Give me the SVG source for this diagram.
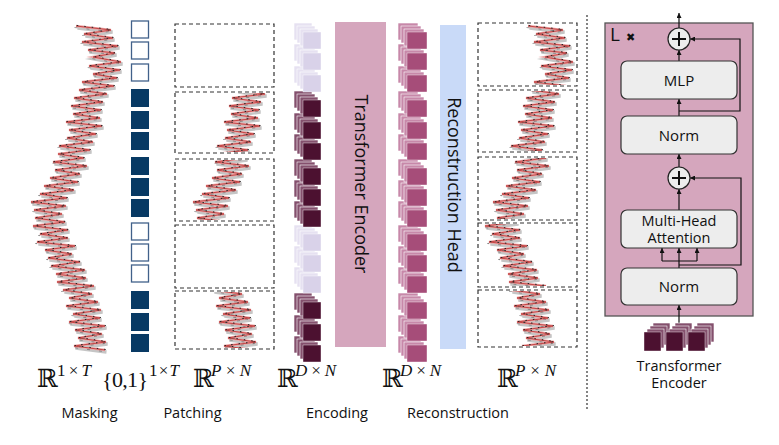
<svg xmlns="http://www.w3.org/2000/svg" xmlns:xlink="http://www.w3.org/1999/xlink" width="779" height="445" viewBox="0 0 779 445">
<style>
.sg{fill:none;stroke-linejoin:miter;stroke-miterlimit:6}
.sh{stroke:#8c8c8c;stroke-width:3.4;opacity:.5}
.pk{stroke:#eba6a6;stroke-width:2.4}
.rd{stroke:#c44545;stroke-width:1}
.nz{stroke:#222;stroke-width:1;stroke-dasharray:1.5 6}
.n2{stroke:#555;stroke-width:.7;stroke-dasharray:3 9;opacity:.8}
.me{fill:#fff;stroke:#41618a;stroke-width:1.3}
.mf{fill:#083a64}
.patch{fill:#fff;stroke:#333;stroke-width:1.2;stroke-dasharray:4 3}
.eb{fill:#84506d;stroke:#fff;stroke-width:.6}
.ef{fill:#4c1130;stroke:#fff;stroke-width:.4}
.lb{fill:#e6e1f1;stroke:#fff;stroke-width:.6}
.lf{fill:#d9d2e9;stroke:#fff;stroke-width:.4}
.rb{fill:#c788a9;stroke:#fff;stroke-width:.6}
.rf{fill:#a64d79;stroke:#fff;stroke-width:.4}
.txt{font-family:"Open Sans","Noto Sans",sans-serif;fill:#111}
.lbl{font-size:14.5px;text-anchor:middle}
.bt{font-size:15px;text-anchor:middle}
.b2{font-size:14px;text-anchor:middle}
.mt{font-family:"Liberation Serif",serif;fill:#111}
.rr{font-family:"DejaVu Serif","DejaVu Sans",serif;font-size:25px}
.sup{font-size:17px}
.it{font-style:italic}
.box{fill:#ededed;stroke:#333;stroke-width:1.2}
.conn{fill:none;stroke:#111;stroke-width:1.2}
.plus{fill:#ededed;stroke:#222;stroke-width:1.2}
.pl{stroke:#111;stroke-width:2;fill:none}
</style>
<defs>
<marker id="ah" viewBox="0 0 6 6" refX="6" refY="3" markerWidth="5" markerHeight="5" markerUnits="userSpaceOnUse" orient="auto">
<path d="M0,0 L6,3 L0,6 z" fill="#111"/>
</marker>
<path id="sigp" d="M76,26 L111,30 84,34 113,38 82,42 118,46 88,50 115,53 93,57 121,62 89,66 120,70 93,74 117,78 82,82 114,86 79,90 107,94 74,98 103,102 71,106 101,110 73,114 100,118 66,122 102,126 69,130 96,134 67,138 93,142 59,146 90,150 58,154 84,158 53,162 87,166 55,170 80,174 50,178 78,182 44,186 74,190 40,194 67,198 31,202 66,206 34,210 62,214 35,218 65,222 33,226 68,230 40,234 68,238 37,242 75,246 45,250 72,254 48,258 80,262 51,266 85,270 56,274 86,278 57,282 94,286 63,290 92,294 69,298 98,302 66,306 101,310 73,314 100,318 69,322 105,326 75,330 102,334 78,338 106,342 74,346 105,350"/>
<g id="sig">
<use href="#sigp" class="sg sh" transform="translate(1.5,2)"/>
<use href="#sigp" class="sg pk"/>
<use href="#sigp" class="sg rd"/>
<use href="#sigp" class="sg n2" transform="translate(-1.5,1.5)"/>
<use href="#sigp" class="sg nz" transform="translate(0.8,-0.5)"/>
</g>
<clipPath id="cp2" clipPathUnits="userSpaceOnUse"><rect x="176" y="93" width="97" height="59"/></clipPath>
<clipPath id="cp3" clipPathUnits="userSpaceOnUse"><rect x="176" y="160" width="97" height="60"/></clipPath>
<clipPath id="cp5" clipPathUnits="userSpaceOnUse"><rect x="176" y="292" width="97" height="56"/></clipPath>
<clipPath id="co1" clipPathUnits="userSpaceOnUse"><rect x="479" y="24" width="97" height="61"/></clipPath>
<clipPath id="co2" clipPathUnits="userSpaceOnUse"><rect x="479" y="91" width="97" height="60"/></clipPath>
<clipPath id="co3" clipPathUnits="userSpaceOnUse"><rect x="479" y="158" width="97" height="61"/></clipPath>
<clipPath id="co4" clipPathUnits="userSpaceOnUse"><rect x="479" y="224" width="97" height="62"/></clipPath>
<clipPath id="co5" clipPathUnits="userSpaceOnUse"><rect x="479" y="291" width="97" height="55"/></clipPath>
<g id="etokD"><rect class="eb" x="294" y="-9" width="18" height="17"/><rect class="eb" x="297" y="-6" width="18" height="17"/><rect class="eb" x="300" y="-3" width="18" height="17"/><rect class="ef" x="303" y="0" width="18" height="17"/></g>
<g id="etokL"><rect class="lb" x="294" y="-9" width="18" height="17"/><rect class="lb" x="297" y="-6" width="18" height="17"/><rect class="lb" x="300" y="-3" width="18" height="17"/><rect class="lf" x="303" y="0" width="18" height="17"/></g>
<g id="rtok"><rect class="rb" x="398" y="-9" width="20" height="17"/><rect class="rb" x="401" y="-6" width="20" height="17"/><rect class="rb" x="404" y="-3" width="20" height="17"/><rect class="rf" x="407" y="0" width="20" height="17"/></g>
<g id="itok"><rect class="eb" x="9" y="-9" width="17" height="19"/><rect class="eb" x="6" y="-6" width="17" height="19"/><rect class="eb" x="3" y="-3" width="17" height="19"/><rect class="ef" x="0" y="0" width="17" height="19"/></g>
</defs>
<rect width="779" height="445" fill="#fff"/>

<g id="input-signal">
<use href="#sig"/>
</g>

<g id="mask">
<rect class="me" x="131.5" y="21" width="17" height="17"/>
<rect class="me" x="131.5" y="42" width="17" height="17"/>
<rect class="me" x="131.5" y="64" width="17" height="17"/>
<rect class="mf" x="131" y="89" width="18" height="18"/>
<rect class="mf" x="131" y="111" width="18" height="18"/>
<rect class="mf" x="131" y="132" width="18" height="18"/>
<rect class="mf" x="131" y="157" width="18" height="18"/>
<rect class="mf" x="131" y="178" width="18" height="18"/>
<rect class="mf" x="131" y="199" width="18" height="18"/>
<rect class="me" x="131.5" y="223" width="17" height="17"/>
<rect class="me" x="131.5" y="244" width="17" height="17"/>
<rect class="me" x="131.5" y="265" width="17" height="17"/>
<rect class="mf" x="131" y="291" width="18" height="18"/>
<rect class="mf" x="131" y="313" width="18" height="18"/>
<rect class="mf" x="131" y="334" width="18" height="18"/>
</g>

<g id="patches">
<rect class="patch" x="175" y="24" width="99" height="63"/>
<rect class="patch" x="175" y="92" width="99" height="61"/>
<rect class="patch" x="175" y="159" width="99" height="62"/>
<rect class="patch" x="175" y="225" width="99" height="63"/>
<rect class="patch" x="175" y="291" width="99" height="58"/>
<g clip-path="url(#cp2)"><use href="#sig" transform="translate(158,0)"/></g>
<g clip-path="url(#cp3)"><use href="#sig" transform="translate(162,0)"/></g>
<g clip-path="url(#cp5)"><use href="#sig" transform="translate(150,0)"/></g>
</g>

<g id="encoding-tokens">
<use href="#etokD" transform="translate(0,345)"/>
<use href="#etokD" transform="translate(0,324)"/>
<use href="#etokD" transform="translate(0,302)"/>
<use href="#etokL" transform="translate(0,276)"/>
<use href="#etokL" transform="translate(0,255)"/>
<use href="#etokL" transform="translate(0,234)"/>
<use href="#etokD" transform="translate(0,210)"/>
<use href="#etokD" transform="translate(0,189)"/>
<use href="#etokD" transform="translate(0,168)"/>
<use href="#etokD" transform="translate(0,143)"/>
<use href="#etokD" transform="translate(0,122)"/>
<use href="#etokD" transform="translate(0,100)"/>
<use href="#etokL" transform="translate(0,75)"/>
<use href="#etokL" transform="translate(0,53)"/>
<use href="#etokL" transform="translate(0,32)"/>
</g>

<g id="transformer-encoder">
<rect x="335" y="22" width="51" height="325" fill="#d5a6bd"/>
<text class="txt" font-size="18" text-anchor="middle" dominant-baseline="central" transform="translate(362,184) rotate(90)">Transformer Encoder</text>
</g>

<g id="reconstruction-tokens">
<use href="#rtok" transform="translate(0,345)"/>
<use href="#rtok" transform="translate(0,324)"/>
<use href="#rtok" transform="translate(0,302)"/>
<use href="#rtok" transform="translate(0,276)"/>
<use href="#rtok" transform="translate(0,255)"/>
<use href="#rtok" transform="translate(0,234)"/>
<use href="#rtok" transform="translate(0,210)"/>
<use href="#rtok" transform="translate(0,189)"/>
<use href="#rtok" transform="translate(0,168)"/>
<use href="#rtok" transform="translate(0,143)"/>
<use href="#rtok" transform="translate(0,122)"/>
<use href="#rtok" transform="translate(0,100)"/>
<use href="#rtok" transform="translate(0,75)"/>
<use href="#rtok" transform="translate(0,53)"/>
<use href="#rtok" transform="translate(0,32)"/>
</g>

<g id="reconstruction-head">
<rect x="440" y="25" width="26" height="324" fill="#c9daf8"/>
<text class="txt" font-size="18" text-anchor="middle" dominant-baseline="central" transform="translate(455,185) rotate(90)">Reconstruction Head</text>
</g>

<g id="output-patches">
<rect class="patch" x="478" y="23" width="99" height="63"/>
<rect class="patch" x="478" y="90" width="99" height="62"/>
<rect class="patch" x="478" y="157" width="99" height="63"/>
<rect class="patch" x="478" y="223" width="99" height="64"/>
<rect class="patch" x="478" y="290" width="99" height="57"/>
<g clip-path="url(#co1)"><use href="#sig" transform="translate(452,0)"/></g>
<g clip-path="url(#co2)"><use href="#sig" transform="translate(452,0)"/></g>
<g clip-path="url(#co3)"><use href="#sig" transform="translate(462,0)"/></g>
<g clip-path="url(#co4)"><use href="#sig" transform="translate(452,0)"/></g>
<g clip-path="url(#co5)"><use href="#sig" transform="translate(448,0)"/></g>
</g>

<g id="math-labels">
<text class="mt" x="37" y="387"><tspan class="rr">ℝ</tspan><tspan class="sup" x="57" y="376" textLength="34">1×<tspan class="it">T</tspan></tspan></text>
<text class="mt" x="102" y="387"><tspan style="font-size:22px" textLength="46">{0,1}</tspan><tspan class="sup" x="149" y="376" textLength="30">1×<tspan class="it">T</tspan></tspan></text>
<text class="mt" x="193" y="387"><tspan class="rr">ℝ</tspan><tspan class="sup it" x="211" y="376" textLength="40">P×N</tspan></text>
<text class="mt" x="277" y="387"><tspan class="rr">ℝ</tspan><tspan class="sup it" x="295" y="376" textLength="41">D×N</tspan></text>
<text class="mt" x="382" y="387"><tspan class="rr">ℝ</tspan><tspan class="sup it" x="400" y="376" textLength="41">D×N</tspan></text>
<text class="mt" x="497" y="387"><tspan class="rr">ℝ</tspan><tspan class="sup it" x="515" y="376" textLength="41">P×N</tspan></text>
</g>

<g id="stage-labels">
<text class="txt lbl" x="89.5" y="418">Masking</text>
<text class="txt lbl" x="192.5" y="418">Patching</text>
<text class="txt lbl" x="337" y="418">Encoding</text>
<text class="txt lbl" x="458" y="418">Reconstruction</text>
</g>

<g id="separator">
<line x1="587" y1="15" x2="587" y2="410" stroke="#333" stroke-width="1.2" stroke-dasharray="2 2"/>
</g>

<g id="layer-box">
<rect x="605" y="23" width="148" height="293" fill="#d5a6bd" stroke="#555" stroke-width="1.3"/>
<text class="txt" x="610" y="41" font-size="19">L</text>
<text x="626" y="41" font-family="DejaVu Sans,sans-serif" font-size="11" fill="#111">✖</text>
</g>

<g id="connectors">
<path class="conn" d="M679,28 V13" marker-end="url(#ah)"/>
<path class="conn" d="M679,61 V50" marker-end="url(#ah)"/>
<path class="conn" d="M679,116 V99" marker-end="url(#ah)"/>
<path class="conn" d="M679,111 H740 V39 H690" marker-end="url(#ah)"/>
<path class="conn" d="M679,167 V154" marker-end="url(#ah)"/>
<path class="conn" d="M679,210 V189" marker-end="url(#ah)"/>
<path class="conn" d="M679,268 V248" marker-end="url(#ah)"/>
<path class="conn" d="M662,261 H697"/>
<path class="conn" d="M662,261 V248" marker-end="url(#ah)"/>
<path class="conn" d="M697,261 V248" marker-end="url(#ah)"/>
<path class="conn" d="M679,265 H741 V178 H690" marker-end="url(#ah)"/>
<path class="conn" d="M679,334 V305" marker-end="url(#ah)"/>
</g>

<g id="add-top">
<circle class="plus" cx="679" cy="39" r="11"/>
<path class="pl" d="M672,39 H686 M679,32 V46"/>
</g>
<g id="mlp">
<rect class="box" x="621" y="61" width="116" height="38" rx="6"/>
<text class="txt bt" x="679" y="85.5">MLP</text>
</g>
<g id="norm-top">
<rect class="box" x="621" y="116" width="116" height="38" rx="6"/>
<text class="txt bt" x="679" y="140.5">Norm</text>
</g>
<g id="add-bottom">
<circle class="plus" cx="679" cy="178" r="11"/>
<path class="pl" d="M672,178 H686 M679,171 V185"/>
</g>
<g id="multi-head-attention">
<rect class="box" x="621" y="210" width="116" height="38" rx="6"/>
<text class="txt b2" x="679" y="225.5" style="font-size:14.5px">Multi-Head<tspan x="679" dy="17.5">Attention</tspan></text>
</g>
<g id="norm-bottom">
<rect class="box" x="621" y="268" width="116" height="37" rx="6"/>
<text class="txt bt" x="679" y="292">Norm</text>
</g>

<g id="input-tokens">
<use href="#itok" transform="translate(644,332)"/>
<use href="#itok" transform="translate(666,332)"/>
<use href="#itok" transform="translate(688,332)"/>
<text class="txt b2" x="679" y="370.5" style="font-size:14.5px">Transformer<tspan x="679" dy="17.5">Encoder</tspan></text>
</g>
</svg>
